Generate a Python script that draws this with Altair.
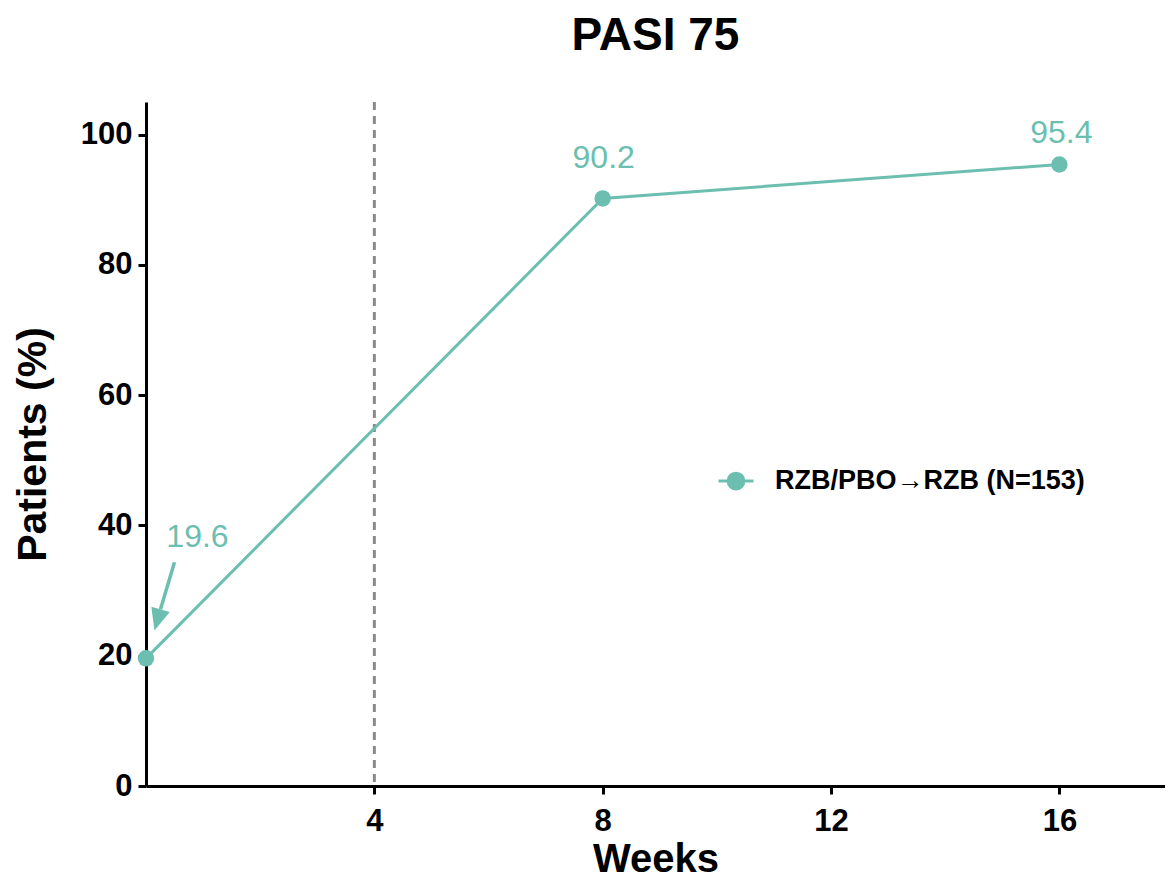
import altair as alt
import pandas as pd

# ---- data ----
weeks = [0, 8, 16]
pasi75 = [19.6, 90.2, 95.4]
value_labels = ["19.6", "90.2", "95.4"]
series_name = "RZB/PBO\u2192RZB (N=153)"
x_tick_values = [4, 8, 12, 16]
y_tick_values = [0, 20, 40, 60, 80, 100]
ref_weeks = [4]

TEAL = "#6cbfb0"
FONT = "Liberation Sans"

df = pd.DataFrame({
    "week": weeks,
    "pct": pasi75,
    "label": value_labels,
    "series": [series_name] * len(weeks),
})
ref_df = pd.DataFrame({"week": ref_weeks})

X_MAX = 17.85
xs = alt.Scale(domain=[0, X_MAX], nice=False, zero=False)
ys = alt.Scale(domain=[0, 105], nice=False)

x_enc = alt.X("week:Q", scale=xs,
              axis=alt.Axis(values=x_tick_values, title="Weeks", format="d"))
y_enc = alt.Y("pct:Q", scale=ys,
              axis=alt.Axis(values=y_tick_values, title="Patients (%)", format="d"))

legend_symbol = ("M-1,0H1M-0.45,0A0.45,0.45,0,1,1,0.45,0"
                 "A0.45,0.45,0,1,1,-0.45,0Z")
color_enc = alt.Color(
    "series:N",
    scale=alt.Scale(domain=[series_name], range=[TEAL]),
    legend=alt.Legend(
        title=None, orient="none", legendX=571, legendY=360,
        symbolType=legend_symbol, symbolSize=1225, symbolStrokeWidth=3,
        symbolFillColor=TEAL, symbolStrokeColor=TEAL,
        labelFont=FONT, labelFontSize=27, labelFontWeight="bold",
        labelColor="black", labelOffset=20, labelLimit=0, padding=0,
    ),
)

ref_rule = alt.Chart(ref_df).mark_rule(
    color="#8a8a8a", strokeWidth=3, strokeDash=[8, 6]
).encode(x=alt.X("week:Q", scale=xs))

line = alt.Chart(df).mark_line(strokeWidth=3).encode(
    x=x_enc, y=y_enc, color=color_enc)
points = alt.Chart(df).mark_point(
    filled=True, size=270, opacity=1, shape="circle"
).encode(x=x_enc, y=y_enc, color=color_enc)

first = alt.Chart(df).transform_filter("datum.week == 0")
arrow_shaft = first.mark_rule(
    color=TEAL, strokeWidth=3.5,
    xOffset=28.5, yOffset=-96, x2Offset=14.5, y2Offset=-49,
).encode(x="week:Q", y="pct:Q", x2="week:Q", y2="pct:Q")
arrow_head = first.mark_point(
    shape="M0,-1L0.48,0.1L-0.48,0.1Z", size=1600, filled=True, opacity=1,
    color=TEAL, angle=196, xOffset=14, yOffset=-47,
).encode(x="week:Q", y="pct:Q")
label_first = first.mark_text(
    font=FONT, fontSize=32, color=TEAL, align="center",
    baseline="alphabetic", dx=51.5, dy=-111,
).encode(x="week:Q", y="pct:Q", text="label:N")

label_mid = alt.Chart(df).transform_filter("datum.week == 8").mark_text(
    font=FONT, fontSize=32, color=TEAL, align="center",
    baseline="alphabetic", dx=1, dy=-30,
).encode(x="week:Q", y="pct:Q", text="label:N")
label_last = alt.Chart(df).transform_filter("datum.week == 16").mark_text(
    font=FONT, fontSize=32, color=TEAL, align="center",
    baseline="alphabetic", dx=2, dy=-22,
).encode(x="week:Q", y="pct:Q", text="label:N")

chart = alt.layer(
    ref_rule, line, points, arrow_shaft, arrow_head,
    label_first, label_mid, label_last,
).properties(
    width=1019, height=684,
    title=alt.TitleParams("PASI 75", font=FONT, fontSize=46, fontWeight="bold",
                          color="black", anchor="middle", offset=41),
    autosize=alt.AutoSizeParams(type="none"),
    padding={"left": 138, "top": 94, "right": 0, "bottom": 94},
).configure_view(stroke=None).configure_axis(
    grid=False, domainColor="black", domainWidth=3, tickColor="black",
    tickWidth=3, tickSize=8, labelFont=FONT, labelFontSize=31,
    labelFontWeight="bold", labelColor="black", titleFont=FONT,
    titleFontWeight="bold", titleColor="black",
).configure_axisY(labelPadding=6, titlePadding=26, titleFontSize=41).configure_axisX(
    labelPadding=12, titlePadding=3, titleFontSize=40)

chart.save("out.html", embed_options={"renderer": "svg", "actions": False})
